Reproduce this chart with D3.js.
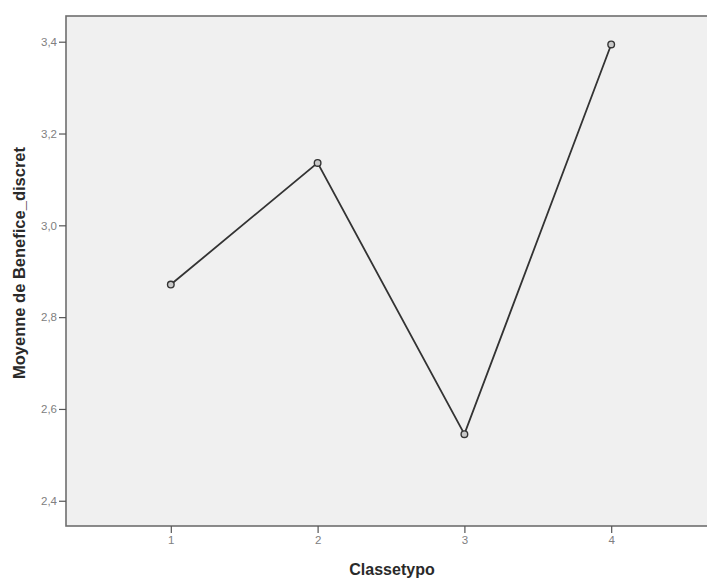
<!DOCTYPE html>
<html>
<head>
<meta charset="utf-8">
<script src="https://cdn.jsdelivr.net/npm/d3@7/dist/d3.min.js"></script>
<style>
  html, body { margin: 0; padding: 0; background: #ffffff; }
  svg { display: block; }
</style>
</head>
<body>
<svg id="chart" width="707" height="581"></svg>
<script>
// Mean of Benefice_discret per Classetypo
const categories = [1, 2, 3, 4];
const means = [2.871, 3.136, 2.545, 3.394];
const yTicks = [2.4, 2.6, 2.8, 3.0, 3.2, 3.4];
const xTitle = "Classetypo";
const yTitle = "Moyenne de Benefice_discret";

const svg = d3.select("#chart");
const frame = { left: 66, top: 16, right: 716, bottom: 526 };
const font = "Arial, 'Liberation Sans', sans-serif";

const x = d3.scaleLinear().domain([0.286, 4.714]).range([frame.left, frame.right]);
const y = d3.scaleLinear().domain([2.345, 3.456]).range([frame.bottom, frame.top]);

const fmt = d => d3.format(".1f")(d).replace(".", ",");

// plot area
svg.append("rect")
  .attr("x", frame.left).attr("y", frame.top)
  .attr("width", frame.right - frame.left).attr("height", frame.bottom - frame.top)
  .attr("fill", "#f0f0f0")
  .attr("stroke", "#6e6e6e").attr("stroke-width", 1.6);

// y axis
const yAxis = svg.append("g")
  .attr("transform", `translate(${frame.left},0)`)
  .call(d3.axisLeft(y).tickValues(yTicks).tickFormat(fmt).tickSize(7).tickPadding(2));
yAxis.select(".domain").remove();
yAxis.selectAll("line").attr("stroke", "#555").attr("stroke-width", 1.2);
yAxis.selectAll("text").attr("fill", "#808080").attr("font-family", font).attr("font-size", 11.5);

// x axis
const xAxis = svg.append("g")
  .attr("transform", `translate(0,${frame.bottom})`)
  .call(d3.axisBottom(x).tickValues(categories).tickFormat(d3.format("d")).tickSize(7).tickPadding(3));
xAxis.select(".domain").remove();
xAxis.selectAll("line").attr("stroke", "#555").attr("stroke-width", 1.2);
xAxis.selectAll("text").attr("fill", "#808080").attr("font-family", font).attr("font-size", 11.5);

// axis titles
svg.append("text")
  .attr("x", 392).attr("y", 575)
  .attr("text-anchor", "middle")
  .attr("font-family", font)
  .attr("font-weight", "bold").attr("font-size", 16).attr("fill", "#2a2a2a")
  .text(xTitle);

svg.append("text")
  .attr("transform", `translate(25,263) rotate(-90)`)
  .attr("text-anchor", "middle")
  .attr("font-family", font)
  .attr("font-weight", "bold").attr("font-size", 16.5).attr("fill", "#2a2a2a")
  .text(yTitle);

// line and markers
const pts = categories.map((c, i) => [c, means[i]]);
svg.append("path")
  .datum(pts)
  .attr("fill", "none")
  .attr("stroke", "#333").attr("stroke-width", 1.8)
  .attr("d", d3.line().x(d => x(d[0])).y(d => y(d[1])));

svg.selectAll("circle.pt")
  .data(pts)
  .join("circle")
  .attr("class", "pt")
  .attr("cx", d => x(d[0])).attr("cy", d => y(d[1]))
  .attr("r", 3.3)
  .attr("fill", "#c8c8c8")
  .attr("stroke", "#333").attr("stroke-width", 1.4);
</script>
</body>
</html>
